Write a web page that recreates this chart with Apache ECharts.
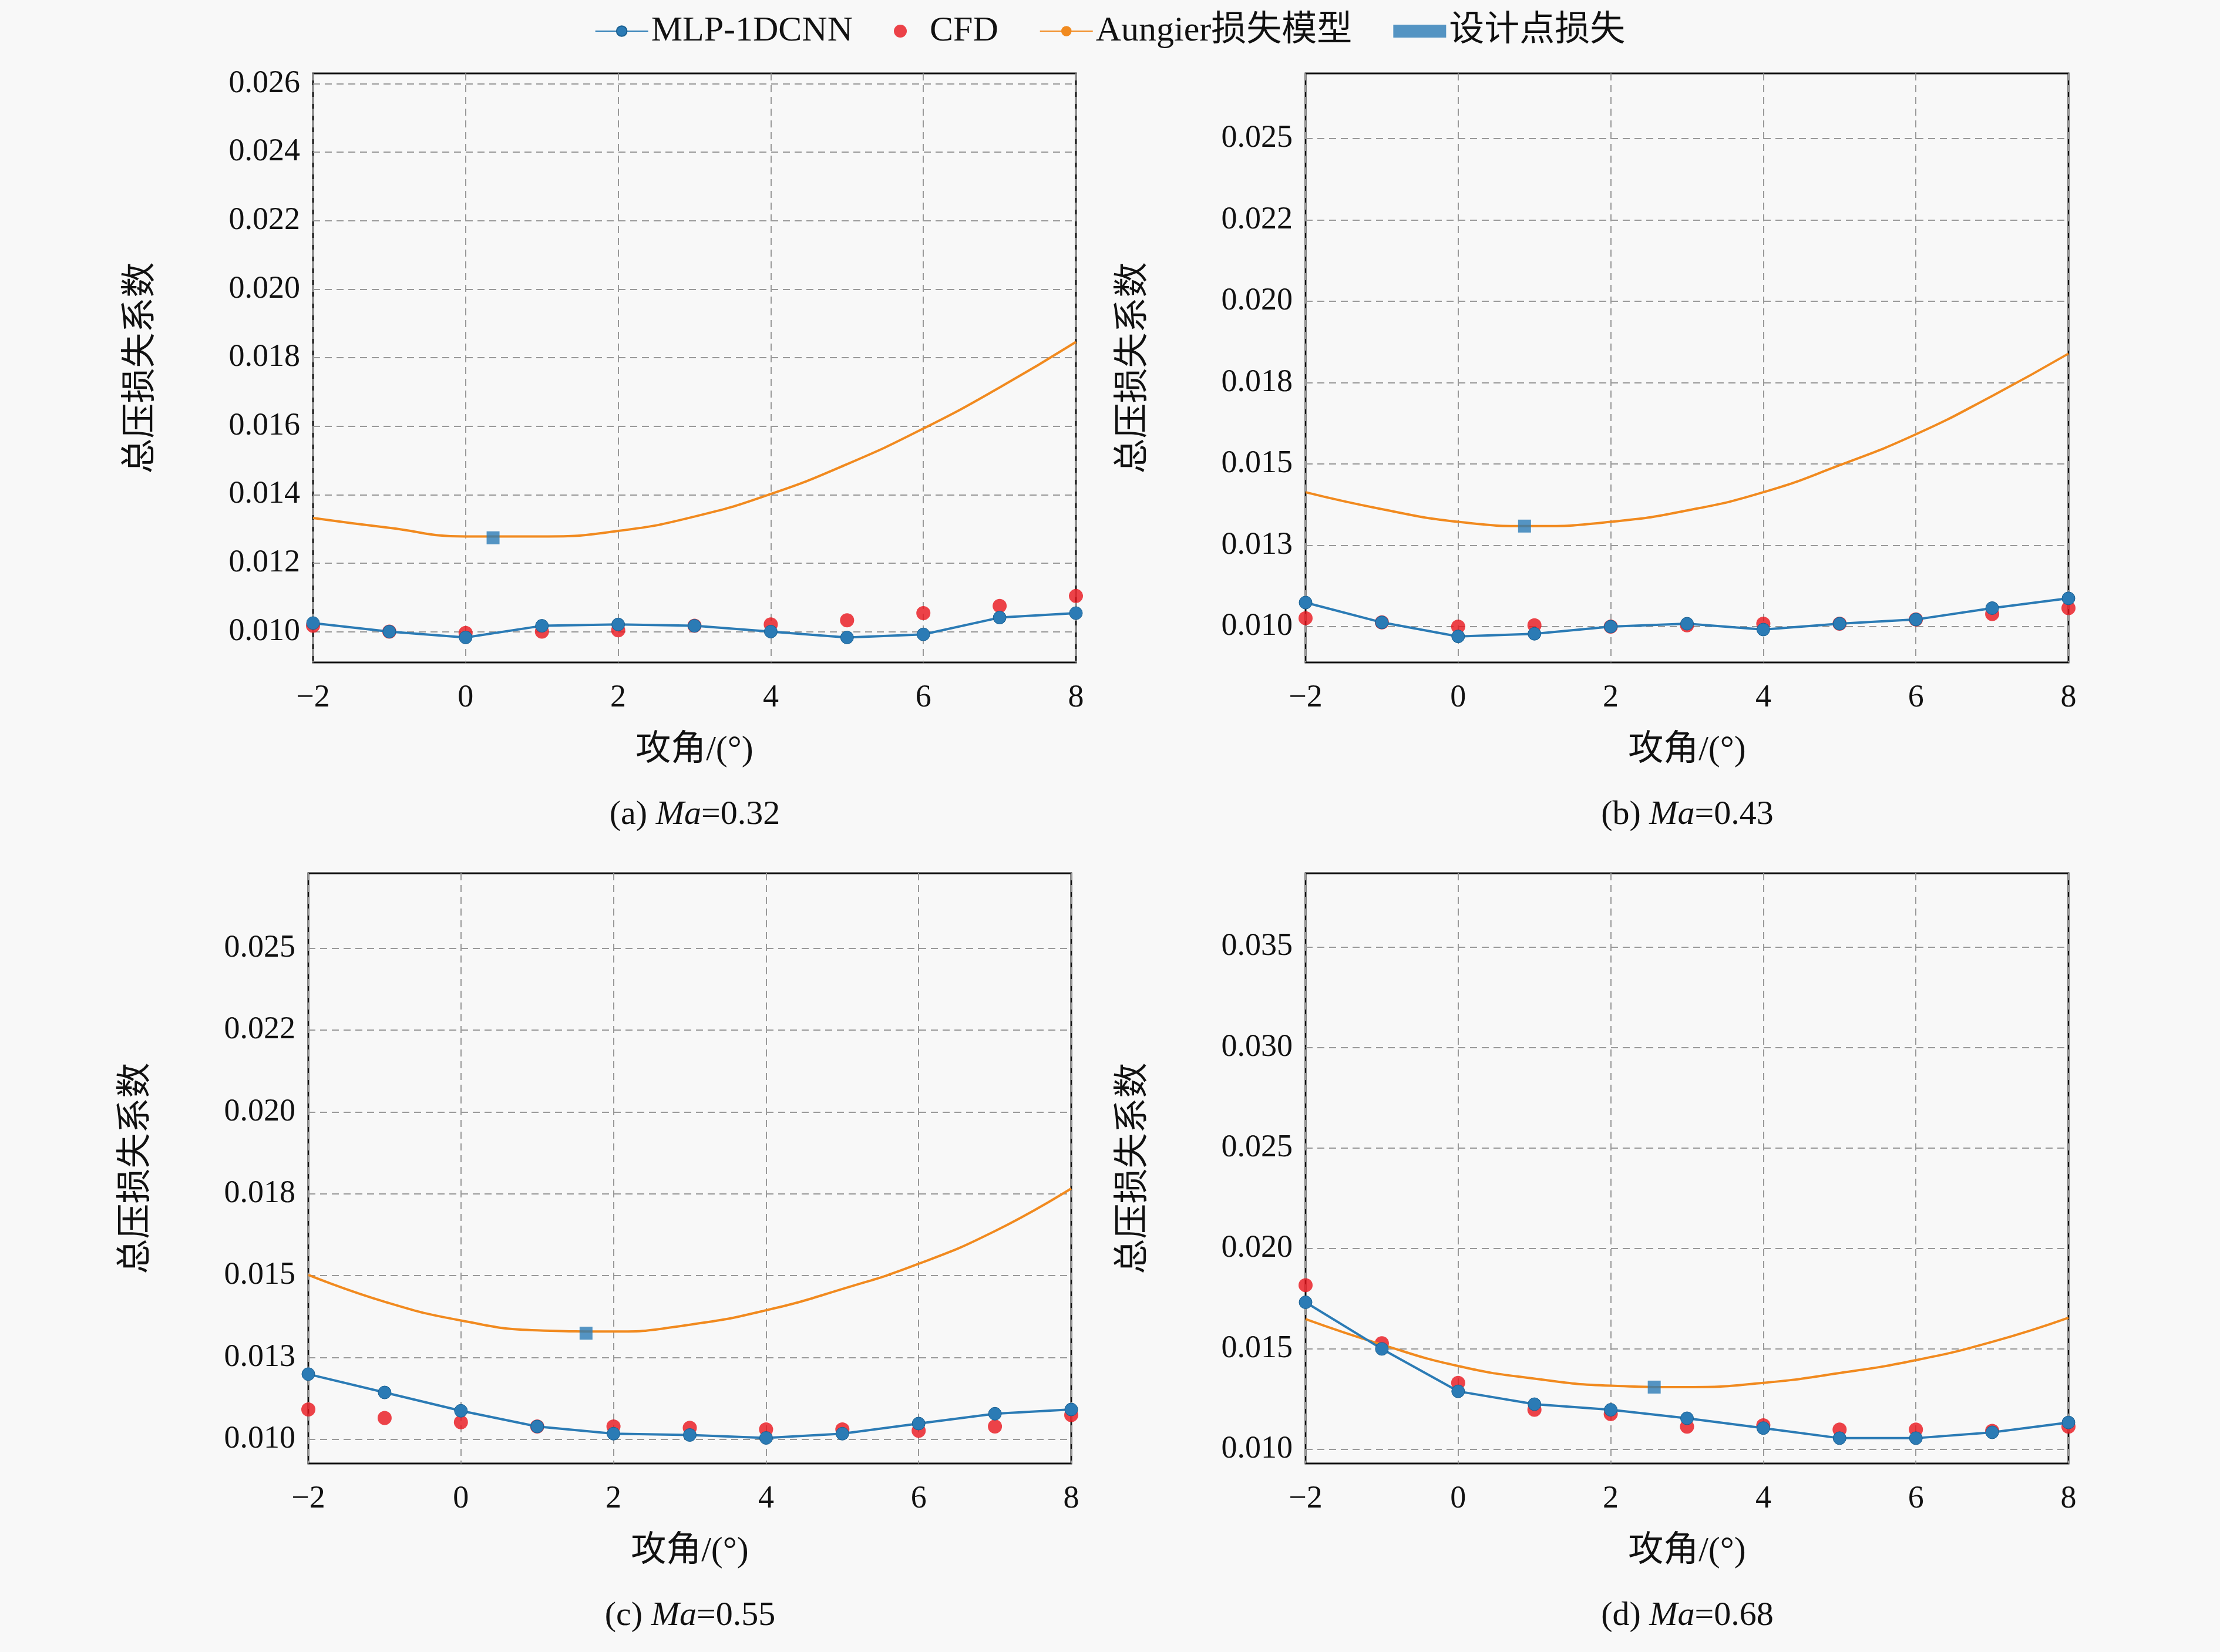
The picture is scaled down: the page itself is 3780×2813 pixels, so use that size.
<!DOCTYPE html>
<html><head><meta charset="utf-8">
<script src="https://cdn.jsdelivr.net/npm/echarts@6/dist/echarts.min.js"></script>
<style>html,body{margin:0;padding:0;background:#f8f8f8}#c{width:3780px;height:2813px}</style>
</head><body><div id="c"></div>
<script>
const xs = [-2,-1,0,1,2,3,4,5,6,7,8];
const mlpA = [0.01025,0.0100,0.00983,0.01017,0.01021,0.01017,0.0100,0.00983,0.00992,0.01041,0.01054];
const cfdA = [0.01017,0.0100,0.00996,0.0100,0.01004,0.01017,0.01021,0.01033,0.01054,0.01075,0.01104];
const aunA = [0.01332,0.01303,0.01278,0.01278,0.01294,0.01336,0.01402,0.01489,0.01593,0.01713,0.01846];
const desA = [[0.36,0.01274]];
const mlpB = [0.01074,0.01013,0.0097,0.00978,0.0100,0.01009,0.00991,0.01009,0.01022,0.01057,0.01087];
const cfdB = [0.01026,0.01013,0.0100,0.01004,0.0100,0.01004,0.01009,0.01009,0.01022,0.01039,0.01057];
const aunB = [0.01413,0.01361,0.01322,0.01309,0.01322,0.01357,0.01413,0.01496,0.01591,0.01709,0.01839];
const desB = [[0.87,0.01309]];
const mlpC = [0.01199,0.01143,0.01087,0.01039,0.01017,0.01013,0.01004,0.01017,0.01048,0.01078,0.01091];
const cfdC = [0.01091,0.01065,0.01052,0.01039,0.01039,0.01035,0.0103,0.0103,0.01026,0.01039,0.01074];
const aunC = [0.01502,0.0142,0.01363,0.01333,0.01329,0.0135,0.01394,0.01459,0.01536,0.01636,0.01766];
const desC = [[1.64,0.01324]];
const mlpD = [0.01732,0.0150,0.01289,0.01225,0.01197,0.01155,0.01106,0.01056,0.01056,0.01085,0.01134];
const cfdD = [0.01817,0.01528,0.01331,0.01197,0.01176,0.01113,0.0112,0.01099,0.01099,0.01092,0.01113];
const aunD = [0.01648,0.01521,0.01415,0.01352,0.01317,0.0131,0.01331,0.0138,0.01444,0.01535,0.01655];
const desD = [[2.57,0.0131]];
const ticksA = [0.010,0.012,0.014,0.016,0.018,0.020,0.022,0.024,0.026];
const labelsA = ['0.010','0.012','0.014','0.016','0.018','0.020','0.022','0.024','0.026'];
const ticksBC = [0.0100,0.0125,0.0150,0.0175,0.0200,0.0225,0.0250];
const labelsBC = ['0.010','0.013','0.015','0.018','0.020','0.022','0.025'];
const ticksD = [0.010,0.015,0.020,0.025,0.030,0.035];
const labelsD = ['0.010','0.015','0.020','0.025','0.030','0.035'];
const captions = [['(a) ','0.32'],['(b) ','0.43'],['(c) ','0.55'],['(d) ','0.68']];

const panels = [
 {mlp:mlpA,cfd:cfdA,aun:aunA,des:desA,ticks:ticksA,labels:labelsA,min:0.0091,max:0.0263,left:533,top:125,h:1003,gap:262},
 {mlp:mlpB,cfd:cfdB,aun:aunB,des:desB,ticks:ticksBC,labels:labelsBC,min:0.0089,max:0.0270,left:2223,top:125,h:1003,gap:262},
 {mlp:mlpC,cfd:cfdC,aun:aunC,des:desC,ticks:ticksBC,labels:labelsBC,min:0.00926,max:0.02729,left:525,top:1487,h:1005,gap:262},
 {mlp:mlpD,cfd:cfdD,aun:aunD,des:desD,ticks:ticksD,labels:labelsD,min:0.0093,max:0.03866,left:2223,top:1487,h:1005,gap:262}
];
const BLUE='#2b7bb5', RED='#e8141c', ORANGE='#f18a1f';
const serif = "'Liberation Serif','Noto Sans CJK SC',serif";
const grids=[],xAxes=[],yAxes=[],series=[],graphics=[];
panels.forEach((p,i)=>{
  grids.push({left:p.left,top:p.top,width:1299,height:p.h,show:true,borderColor:'#111',borderWidth:3,backgroundColor:'transparent'});
  xAxes.push({type:'value',gridIndex:i,min:-2,max:8,interval:2,
    name:'攻角/(°)',nameLocation:'middle',nameGap:120,
    nameTextStyle:{fontFamily:serif,fontSize:60,color:'#111'},
    axisLine:{show:false},axisTick:{show:false},
    axisLabel:{margin:34,fontFamily:serif,fontSize:54,color:'#111',formatter:v=>v<0?'\u2212'+(-v):String(v)},
    splitLine:{show:true,lineStyle:{type:[12,8],color:'#999',width:2}}});
  yAxes.push({type:'value',gridIndex:i,min:p.min,max:p.max,
    name:'总压损失系数',nameLocation:'middle',nameGap:p.gap,nameRotate:90,
    nameTextStyle:{fontFamily:serif,fontSize:60,color:'#111'},
    axisLine:{show:false},
    axisTick:{show:false,customValues:p.ticks},
    axisLabel:{margin:22,fontFamily:serif,fontSize:54,color:'#111',customValues:p.ticks,
      formatter:v=>{let b=0;p.ticks.forEach((t,k)=>{if(Math.abs(t-v)<Math.abs(p.ticks[b]-v))b=k;});return p.labels[b];}},
    splitLine:{show:true,lineStyle:{type:[12,8],color:'#999',width:2}}});
  series.push({name:'CFD',type:'scatter',xAxisIndex:i,yAxisIndex:i,symbol:'circle',symbolSize:24,
    itemStyle:{color:RED},data:xs.map((x,k)=>[x,p.cfd[k]]),z:2});
  series.push({name:'Aungier损失模型',type:'line',xAxisIndex:i,yAxisIndex:i,smooth:true,showSymbol:false,symbol:'none',
    lineStyle:{color:ORANGE,width:4},itemStyle:{color:ORANGE},data:xs.map((x,k)=>[x,p.aun[k]]),z:3});
  series.push({name:'MLP-1DCNN',type:'line',xAxisIndex:i,yAxisIndex:i,symbol:'circle',symbolSize:22,
    lineStyle:{color:BLUE,width:4},itemStyle:{color:BLUE,borderColor:'#1a5f90',borderWidth:1},
    data:xs.map((x,k)=>[x,p.mlp[k]]),z:4});
  series.push({name:'设计点损失',type:'scatter',xAxisIndex:i,yAxisIndex:i,symbol:'rect',symbolSize:22,
    itemStyle:{color:BLUE},data:p.des,z:5});
  graphics.push({type:'text',left:p.left+650,top:p.top+p.h+210,
    style:{text:'{n|'+captions[i][0]+'}{i|Ma}{n|='+captions[i][1]+'}',
      rich:{n:{fontFamily:serif,fontSize:58,fill:'#111'},i:{fontFamily:serif,fontSize:58,fontStyle:'italic',fill:'#111'}},
      align:'center',verticalAlign:'middle'},
    x:0,y:0});
});
graphics.forEach(g=>{g.left=undefined; });
const opt={backgroundColor:'#f8f8f8',animation:false,
  legend:{top:18,left:'center',itemWidth:90,itemHeight:22,itemGap:70,
    textStyle:{fontFamily:serif,fontSize:60,color:'#111'},
    data:['MLP-1DCNN','CFD','Aungier损失模型',{name:'设计点损失',icon:'rect'}]},
  grid:grids,xAxis:xAxes,yAxis:yAxes,series:series,
  graphic:panels.map((p,i)=>({type:'text',x:p.left+650,y:p.top+p.h+(i<2?260:260),
    style:{text:'{n|'+captions[i][0]+'}{i|Ma}{n|='+captions[i][1]+'}',
      rich:{n:{fontFamily:serif,fontSize:58,fill:'#111'},i:{fontFamily:serif,fontSize:58,fontStyle:'italic',fill:'#111'}},
      align:'center',verticalAlign:'middle'}}))
};
echarts.init(document.getElementById('c')).setOption(opt);
</script></body></html>
